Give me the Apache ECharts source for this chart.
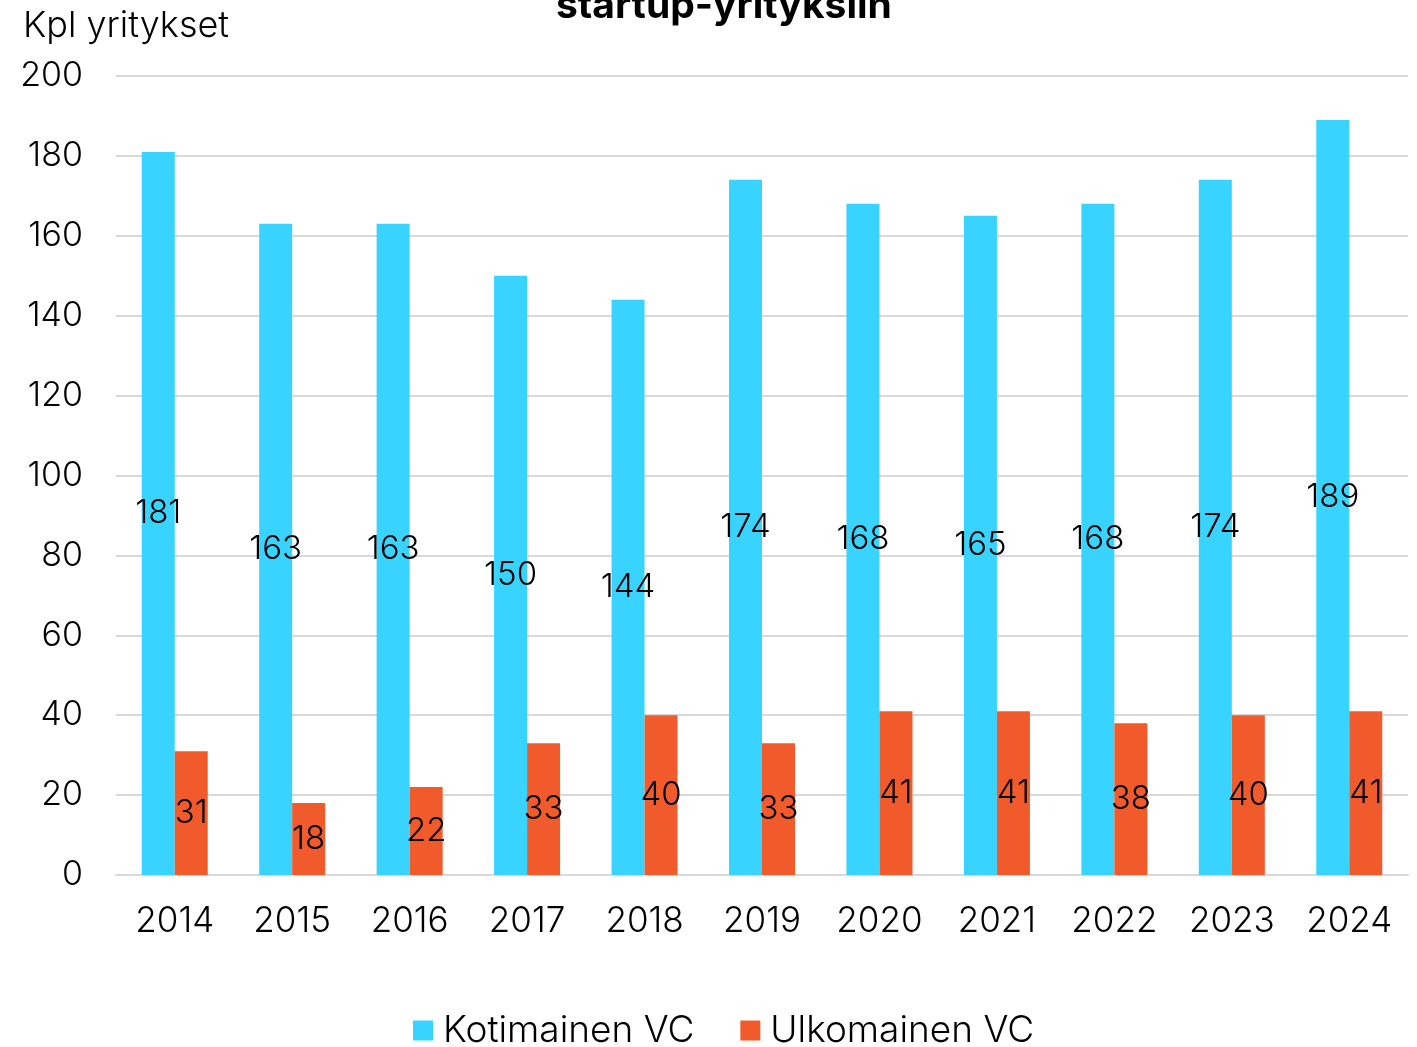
<!DOCTYPE html>
<html>
<head>
<meta charset="utf-8">
<script src="https://cdn.jsdelivr.net/npm/echarts@6/dist/echarts.min.js"></script>
<style>
  html, body { margin: 0; padding: 0; background: #fff; }
  #main { width: 1417px; height: 1047px; }
</style>
</head>
<body>
<div id="main"></div>
<script>
// vuodet ja sijoitukset
var years = ['2014', '2015', '2016', '2017', '2018', '2019', '2020', '2021', '2022', '2023', '2024'];
var kotimainen = [181, 163, 163, 150, 144, 174, 168, 165, 168, 174, 189];
var ulkomainen = [31, 18, 22, 33, 40, 33, 41, 41, 38, 40, 41];
var yTicks = [0, 20, 40, 60, 80, 100, 120, 140, 160, 180, 200];

var font = 'Inter';
var chart = echarts.init(document.getElementById('main'));

var labelStyle = {
    show: true,
    position: 'inside',
    color: '#000',
    fontFamily: font,
    fontWeight: 300,
    fontSize: 33
};

chart.setOption({
    animation: false,
    title: [{
        text: 'startup-yrityksiin',
        left: 551,
        top: -18,
        textStyle: { fontFamily: font, fontWeight: 'bold', fontSize: 39, color: '#000' }
    }, {
        text: 'Kpl yritykset',
        left: 18,
        top: 3,
        textStyle: { fontFamily: font, fontWeight: 300, fontSize: 36, color: '#000' }
    }],
    legend: {
        bottom: -7,
        left: 408,
        itemWidth: 20,
        itemHeight: 20,
        itemGap: 46,
        icon: 'rect',
        textStyle: { fontFamily: font, fontWeight: 300, fontSize: 37, color: '#000', padding: [0, 0, 0, 5] },
        data: ['Kotimainen VC', 'Ulkomainen VC']
    },
    grid: { left: 116, right: 9, top: 76, bottom: 172, containLabel: false },
    xAxis: {
        type: 'category',
        data: years,
        axisLine: { lineStyle: { color: '#d9d9d9', width: 2 } },
        axisTick: { show: false },
        axisLabel: { fontFamily: font, fontWeight: 300, fontSize: 35, color: '#000', margin: 29 }
    },
    yAxis: {
        type: 'value',
        min: yTicks[0],
        max: yTicks[yTicks.length - 1],
        interval: 20,
        axisLine: { show: false },
        axisTick: { show: false },
        splitLine: { lineStyle: { color: '#d9d9d9', width: 2 } },
        axisLabel: { fontFamily: font, fontWeight: 300, fontSize: 34, color: '#000', margin: 33 }
    },
    series: [{
        name: 'Kotimainen VC',
        type: 'bar',
        data: kotimainen,
        barWidth: 33,
        barGap: '0%',
        itemStyle: { color: '#38D3FF' },
        label: labelStyle
    }, {
        name: 'Ulkomainen VC',
        type: 'bar',
        data: ulkomainen,
        barWidth: 33,
        barGap: '0%',
        itemStyle: { color: '#F15A2B' },
        label: labelStyle
    }]
});
</script>
</body>
</html>
